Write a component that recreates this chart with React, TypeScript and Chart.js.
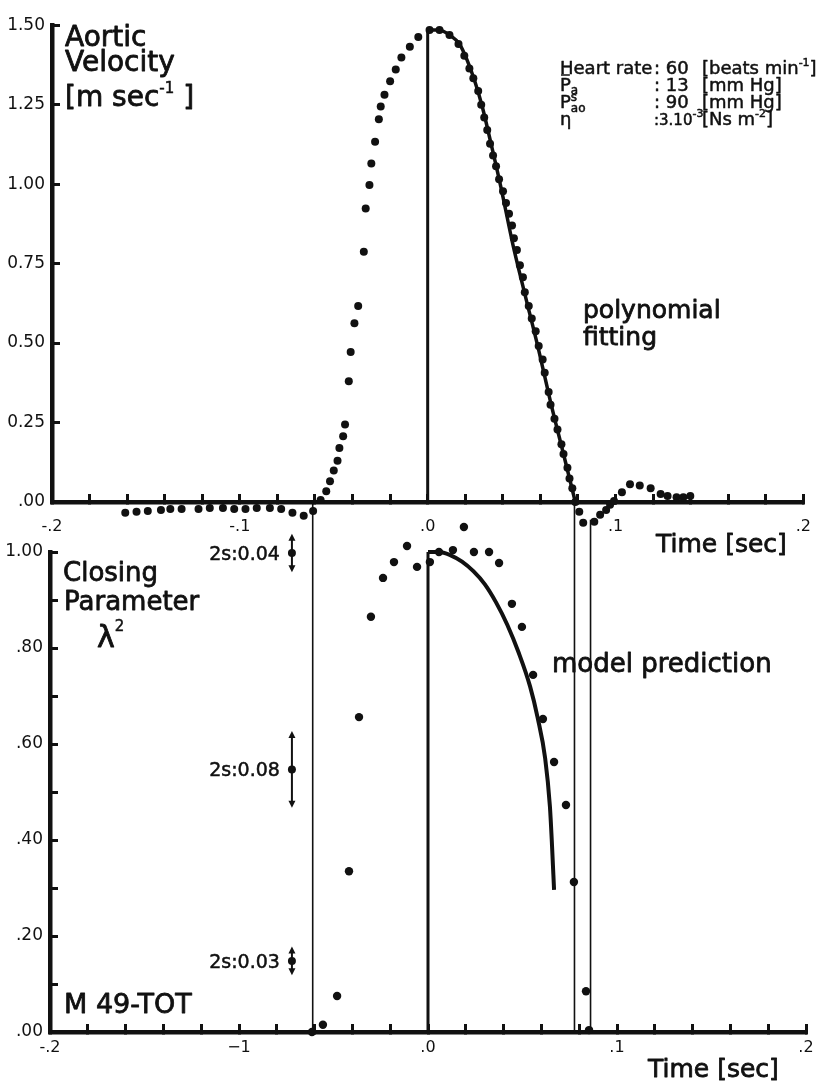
import { useEffect, useRef } from 'react';
import { Chart, registerables } from 'chart.js';

Chart.register(...registerables);

const FONT = '"DejaVu Sans", "Liberation Sans", sans-serif';
const INK = '#111111';

// ---------- top panel: aortic velocity ----------
const velTime = [
  -0.161, -0.155, -0.149, -0.142, -0.137, -0.131, -0.122, -0.116, -0.109, -0.103, -0.097, -0.091, -0.084, -0.078, -0.072, -0.066, -0.061,
  -0.057, -0.054, -0.052, -0.05, -0.048, -0.047, -0.045, -0.044, -0.042, -0.041, -0.039, -0.037, -0.034, -0.033, -0.031, -0.03, -0.028,
  -0.026, -0.025, -0.023, -0.02, -0.017, -0.014, -0.0095, -0.005, 0.001,
  0.0063, 0.0116, 0.0164, 0.0195, 0.0222, 0.0243, 0.0269, 0.0285, 0.0301, 0.0317, 0.0332, 0.0348, 0.0364, 0.038, 0.0401, 0.0417, 0.0433,
  0.0449, 0.0459, 0.0475, 0.0491, 0.0507, 0.0517, 0.0538, 0.0554, 0.0575, 0.0591, 0.0612, 0.0623, 0.0644, 0.0654, 0.0675, 0.0691, 0.0712,
  0.0723, 0.0744, 0.0755, 0.077, 0.0786,
  0.0807, 0.0828, 0.0887, 0.0918, 0.095, 0.0971, 0.0992, 0.1034, 0.1077, 0.1129, 0.1187, 0.124, 0.1277, 0.1325, 0.1361, 0.1398,
];
const velValue = [
  -0.034, -0.031, -0.028, -0.025, -0.022, -0.022, -0.022, -0.019, -0.019, -0.022, -0.022, -0.019, -0.019, -0.022, -0.034, -0.043, -0.028,
  0.006, 0.034, 0.065, 0.099, 0.13, 0.17, 0.207, 0.244, 0.38, 0.472, 0.562, 0.617, 0.787, 0.923, 0.997, 1.065, 1.133,
  1.204, 1.244, 1.281, 1.324, 1.361, 1.398, 1.432, 1.463, 1.485,
  1.485, 1.469, 1.441, 1.404, 1.364, 1.333, 1.293, 1.25, 1.21, 1.17, 1.127, 1.09, 1.056, 1.015, 0.978, 0.941, 0.907,
  0.87, 0.83, 0.793, 0.745, 0.707, 0.66, 0.617, 0.577, 0.537, 0.491, 0.448, 0.407, 0.346, 0.306, 0.262, 0.228, 0.182,
  0.151, 0.108, 0.074, 0.043, 0.0,
  -0.031, -0.065, -0.062, -0.04, -0.025, -0.009, 0.003, 0.031, 0.056, 0.052, 0.043, 0.025, 0.019, 0.015, 0.015, 0.019,
];
const fitTime = [0, 0.006, 0.012, 0.017, 0.021, 0.025, 0.029, 0.034, 0.039, 0.0454, 0.0517, 0.0591, 0.0654, 0.0723, 0.0786];
const fitValue = [1.485, 1.485, 1.468, 1.44, 1.39, 1.325, 1.245, 1.12, 0.99, 0.809, 0.655, 0.478, 0.315, 0.151, 0.0];
const peakTime = 0;
const peakValue = 1.485;

// ---------- bottom panel: closing parameter ----------
const lamTime = [
  -0.0614, -0.0556, -0.0481, -0.0418, -0.0365, -0.0302, -0.0238, -0.018, -0.0111, -0.0058, 0.001, 0.0058, 0.0132,
  0.019, 0.0243, 0.0323, 0.0376, 0.0444, 0.0497, 0.0556, 0.0608, 0.0667, 0.073, 0.0772, 0.0836, 0.0852,
];
const lamValue = [
  0.0, 0.015, 0.075, 0.335, 0.656, 0.865, 0.946, 0.979, 1.0125, 0.969, 0.979, 1.0, 1.004,
  1.052, 1.0, 1.0, 0.977, 0.892, 0.844, 0.744, 0.652, 0.5625, 0.473, 0.3125, 0.085, 0.004,
];
const modelTime = [0, 0.006, 0.012, 0.018, 0.024, 0.03, 0.036, 0.042, 0.048, 0.054, 0.058, 0.062, 0.0645, 0.0656, 0.0667];
const modelValue = [1.0, 1.0, 0.993, 0.98, 0.96, 0.933, 0.895, 0.848, 0.79, 0.72, 0.655, 0.57, 0.47, 0.39, 0.296];
const onsetTime = 0;
const onsetTop = 1.0;
const markerTimes = [-0.061, 0.0775, 0.086];
const markerTops = [1.104, 1.104, 1.067];
const errTime = -0.072;
const errCenters = [0.998, 0.547, 0.148];
const errHalf = [0.04, 0.08, 0.03];
const errLabels = ['2s:0.04', '2s:0.08', '2s:0.03'];

// ---------- ticks ----------
const xTickValues = [
  -0.2, -0.18, -0.16, -0.14, -0.12, -0.1, -0.08, -0.06, -0.04, -0.02, 0,
  0.02, 0.04, 0.06, 0.08, 0.1, 0.12, 0.14, 0.16, 0.18, 0.2,
];
const xLabelValues = [-0.2, -0.1, 0, 0.1, 0.2];
const topXLabels = ['-.2', '-.1', '.0', '.1', '.2'];
const bottomXLabels = ['-.2', '\u22121', '.0', '.1', '.2'];
const topYTicks = [0, 0.25, 0.5, 0.75, 1.0, 1.25, 1.5];
const topYLabels = ['.00', '0.25', '0.50', '0.75', '1.00', '1.25', '1.50'];
const bottomYTicks = [0, 0.1, 0.2, 0.3, 0.4, 0.5, 0.6, 0.7, 0.8, 0.9, 1.0];
const bottomYLabelValues = [0, 0.2, 0.4, 0.6, 0.8, 1.0];
const bottomYLabels = ['.00', '.20', '.40', '.60', '.80', '1.00'];

const pts = (xs: number[], ys: number[]) => xs.map((x, i) => ({ x, y: ys[i] }));
const labelFor = (v: number, values: number[], labels: string[]) => {
  const i = values.findIndex((w) => Math.abs(w - v) < 1e-6);
  return i >= 0 ? labels[i] : '';
};

type Run = { text: string; size: number; dy?: number };
function drawRuns(ctx: CanvasRenderingContext2D, x: number, y: number, runs: Run[]) {
  let cx = x;
  ctx.lineJoin = 'round';
  for (const r of runs) {
    ctx.font = `${r.size}px ${FONT}`;
    ctx.lineWidth = r.size >= 20 ? 0.8 : 0.5;
    ctx.fillText(r.text, cx, y + (r.dy ?? 0));
    ctx.strokeText(r.text, cx, y + (r.dy ?? 0));
    cx += ctx.measureText(r.text).width;
  }
  return cx;
}

// lets marks that sit just outside the plotting box (below the time axis,
// above 1.0) still be drawn by Chart.js itself
const freeMarksPlugin = {
  id: 'freeMarks',
  beforeDatasetsDraw(chart: any) {
    chart.$savedArea = chart.chartArea;
    chart.chartArea = {
      ...chart.chartArea,
      left: 0,
      top: 0,
      right: chart.width,
      bottom: chart.height,
      width: chart.width,
      height: chart.height,
    };
  },
  afterDatasetsDraw(chart: any) {
    if (chart.$savedArea) chart.chartArea = chart.$savedArea;
  },
};

function xScale(labels: string[], padding: number, height: number) {
  return {
    type: 'linear',
    min: -0.2,
    max: 0.2,
    afterBuildTicks: (s: any) => {
      s.ticks = xTickValues.map((value) => ({ value }));
    },
    afterFit: (s: any) => {
      s.height = height;
    },
    ticks: {
      autoSkip: false,
      maxRotation: 0,
      padding,
      color: INK,
      font: { family: FONT, size: 16 },
      callback: (v: any) => labelFor(Number(v), xLabelValues, labels),
    },
    grid: { drawOnChartArea: false, drawTicks: true, tickLength: -8, tickWidth: 3, tickColor: INK },
    border: { display: true, width: 4.5, color: INK },
  };
}

function yScale(min: number, max: number, tickVals: number[], labVals: number[], labels: string[], width: number) {
  return {
    type: 'linear',
    min,
    max,
    afterBuildTicks: (s: any) => {
      s.ticks = tickVals.map((value) => ({ value }));
    },
    afterFit: (s: any) => {
      s.width = width;
    },
    ticks: {
      autoSkip: false,
      padding: 15,
      color: INK,
      font: { family: FONT, size: 17 },
      callback: (v: any) => labelFor(Number(v), labVals, labels),
    },
    grid: { drawOnChartArea: false, drawTicks: true, tickLength: -8, tickWidth: 3, tickColor: INK },
    border: { display: true, width: 4.5, color: INK },
  };
}

const topTextPlugin = {
  id: 'topText',
  afterDraw(chart: any) {
    const ctx: CanvasRenderingContext2D = chart.ctx;
    ctx.save();
    ctx.fillStyle = INK;
    ctx.strokeStyle = INK;
    ctx.textAlign = 'left';
    ctx.textBaseline = 'alphabetic';
    drawRuns(ctx, 65, 46, [{ text: 'Aortic', size: 28 }]);
    drawRuns(ctx, 65, 71, [{ text: 'Velocity', size: 28 }]);
    drawRuns(ctx, 65, 106, [
      { text: '[m sec', size: 28 },
      { text: '-1', size: 15, dy: -13 },
      { text: ' ]', size: 28 },
    ]);

    const rows = [74, 91, 108, 125];
    const c1 = 560;
    const c2 = 654;
    const c3 = 702;
    drawRuns(ctx, c1, rows[0], [{ text: 'Heart rate', size: 18 }]);
    drawRuns(ctx, c2, rows[0], [{ text: ': 60', size: 18 }]);
    drawRuns(ctx, c3, rows[0], [
      { text: '[beats min', size: 18 },
      { text: '-1', size: 11, dy: -8 },
      { text: ']', size: 18 },
    ]);
    const pEnd = drawRuns(ctx, c1, rows[1], [{ text: 'P', size: 18 }]);
    drawRuns(ctx, pEnd, rows[1], [{ text: 'a', size: 12, dy: 3 }]);
    ctx.lineWidth = 1.5;
    ctx.beginPath();
    ctx.moveTo(c1 + 1, rows[1] - 16);
    ctx.lineTo(pEnd - 1, rows[1] - 16);
    ctx.stroke();
    drawRuns(ctx, c2, rows[1], [{ text: ': 13', size: 18 }]);
    drawRuns(ctx, c3, rows[1], [{ text: '[mm Hg]', size: 18 }]);
    const p2 = drawRuns(ctx, c1, rows[2], [{ text: 'P', size: 18 }]);
    drawRuns(ctx, p2, rows[2], [{ text: 's', size: 12, dy: -7 }]);
    drawRuns(ctx, p2, rows[2], [{ text: 'ao', size: 12, dy: 4 }]);
    drawRuns(ctx, c2, rows[2], [{ text: ': 90', size: 18 }]);
    drawRuns(ctx, c3, rows[2], [{ text: '[mm Hg]', size: 18 }]);
    drawRuns(ctx, c1, rows[3], [{ text: '\u03b7', size: 18 }]);
    drawRuns(ctx, c2, rows[3], [
      { text: ':3.10', size: 15 },
      { text: '-3', size: 11, dy: -8 },
    ]);
    drawRuns(ctx, c3, rows[3], [
      { text: '[Ns m', size: 18 },
      { text: '-2', size: 11, dy: -8 },
      { text: ']', size: 18 },
    ]);

    drawRuns(ctx, 583, 318, [{ text: 'polynomial', size: 25 }]);
    drawRuns(ctx, 583, 345, [{ text: 'fitting', size: 25 }]);
    drawRuns(ctx, 656, 552, [{ text: 'Time [sec]', size: 25 }]);
    ctx.restore();
  },
};

const bottomTextPlugin = {
  id: 'bottomText',
  afterDatasetsDraw(chart: any) {
    const ctx: CanvasRenderingContext2D = chart.ctx;
    const xs = chart.scales.x;
    const ys = chart.scales.y;
    ctx.save();
    ctx.fillStyle = INK;
    ctx.strokeStyle = INK;
    const ex = xs.getPixelForValue(errTime);
    errCenters.forEach((c, i) => {
      const yc = ys.getPixelForValue(c);
      const y1 = ys.getPixelForValue(c + errHalf[i]);
      const y2 = ys.getPixelForValue(c - errHalf[i]);
      ctx.lineWidth = 2;
      ctx.beginPath();
      ctx.moveTo(ex, y1 + 4);
      ctx.lineTo(ex, y2 - 4);
      ctx.stroke();
      ctx.beginPath();
      ctx.moveTo(ex, y1);
      ctx.lineTo(ex - 3.5, y1 + 7);
      ctx.lineTo(ex + 3.5, y1 + 7);
      ctx.closePath();
      ctx.fill();
      ctx.beginPath();
      ctx.moveTo(ex, y2);
      ctx.lineTo(ex - 3.5, y2 - 7);
      ctx.lineTo(ex + 3.5, y2 - 7);
      ctx.closePath();
      ctx.fill();
      ctx.beginPath();
      ctx.arc(ex, yc, 4, 0, Math.PI * 2);
      ctx.fill();
      ctx.textAlign = 'right';
      ctx.textBaseline = 'alphabetic';
      ctx.font = `19px ${FONT}`;
      ctx.lineWidth = 0.5;
      ctx.fillText(errLabels[i], ex - 12, yc + 7);
      ctx.strokeText(errLabels[i], ex - 12, yc + 7);
    });
    ctx.restore();
  },
  afterDraw(chart: any) {
    const ctx: CanvasRenderingContext2D = chart.ctx;
    ctx.save();
    ctx.fillStyle = INK;
    ctx.strokeStyle = INK;
    ctx.textAlign = 'left';
    ctx.textBaseline = 'alphabetic';
    drawRuns(ctx, 63, 581, [{ text: 'Closing', size: 26 }]);
    drawRuns(ctx, 64, 610, [{ text: 'Parameter', size: 26 }]);
    drawRuns(ctx, 97, 647, [
      { text: '\u03bb', size: 30 },
      { text: '2', size: 15, dy: -16 },
    ]);
    drawRuns(ctx, 552, 672, [{ text: 'model prediction', size: 26 }]);
    drawRuns(ctx, 64, 1013, [{ text: 'M 49-TOT', size: 27 }]);
    drawRuns(ctx, 648, 1077, [{ text: 'Time [sec]', size: 25 }]);
    ctx.restore();
  },
};

function topConfig(): any {
  return {
    type: 'scatter',
    data: {
      datasets: [
        {
          data: pts(velTime, velValue),
          pointRadius: 4,
          pointBackgroundColor: INK,
          pointBorderWidth: 0,
          showLine: false,
          clip: false,
        },
        {
          data: pts(fitTime, fitValue),
          showLine: true,
          borderColor: INK,
          borderWidth: 3.5,
          pointRadius: 0,
          cubicInterpolationMode: 'monotone',
          clip: false,
        },
        {
          data: [
            { x: peakTime, y: 0 },
            { x: peakTime, y: peakValue },
          ],
          showLine: true,
          borderColor: INK,
          borderWidth: 3,
          pointRadius: 0,
          clip: false,
        },
      ],
    },
    options: {
      responsive: false,
      animation: false,
      devicePixelRatio: 1,
      layout: { padding: { left: 0, right: 24, top: 16, bottom: 546 } },
      plugins: { legend: { display: false }, tooltip: { enabled: false } },
      scales: {
        x: xScale(topXLabels, 23, 40),
        y: yScale(0, 1.5, topYTicks, topYTicks, topYLabels, 52),
      },
    },
    plugins: [freeMarksPlugin, topTextPlugin],
  };
}

function bottomConfig(): any {
  const markers = markerTimes.map((t, i) => ({
    data: [
      { x: t, y: 0 },
      { x: t, y: markerTops[i] },
    ],
    showLine: true,
    borderColor: INK,
    borderWidth: 1.6,
    pointRadius: 0,
    clip: false,
  }));
  return {
    type: 'scatter',
    data: {
      datasets: [
        {
          data: pts(lamTime, lamValue),
          pointRadius: 4.2,
          pointBackgroundColor: INK,
          pointBorderWidth: 0,
          showLine: false,
          clip: false,
        },
        {
          data: pts(modelTime, modelValue),
          showLine: true,
          borderColor: INK,
          borderWidth: 4,
          pointRadius: 0,
          cubicInterpolationMode: 'monotone',
          clip: false,
        },
        {
          data: [
            { x: onsetTime, y: 0 },
            { x: onsetTime, y: onsetTop },
          ],
          showLine: true,
          borderColor: INK,
          borderWidth: 3,
          pointRadius: 0,
          clip: false,
        },
        ...markers,
      ],
    },
    options: {
      responsive: false,
      animation: false,
      devicePixelRatio: 1,
      layout: { padding: { left: 0, right: 28, top: 552, bottom: 26 } },
      plugins: { legend: { display: false }, tooltip: { enabled: false } },
      scales: {
        x: xScale(bottomXLabels, 14, 30),
        y: yScale(0, 1.0, bottomYTicks, bottomYLabelValues, bottomYLabels, 50),
      },
    },
    plugins: [freeMarksPlugin, bottomTextPlugin],
  };
}

export default function App() {
  const topRef = useRef<HTMLCanvasElement>(null);
  const botRef = useRef<HTMLCanvasElement>(null);
  useEffect(() => {
    if (!topRef.current || !botRef.current) return;
    const top = new Chart(topRef.current, topConfig());
    const bot = new Chart(botRef.current, bottomConfig());
    return () => {
      top.destroy();
      bot.destroy();
    };
  }, []);
  return (
    <div style={{ position: 'absolute', left: 0, top: 0, width: 834, height: 1088, background: '#ffffff', overflow: 'hidden' }}>
      <canvas ref={topRef} width={834} height={1088} style={{ position: 'absolute', left: 0, top: 0 }} />
      <canvas ref={botRef} width={834} height={1088} style={{ position: 'absolute', left: 0, top: 0 }} />
    </div>
  );
}
